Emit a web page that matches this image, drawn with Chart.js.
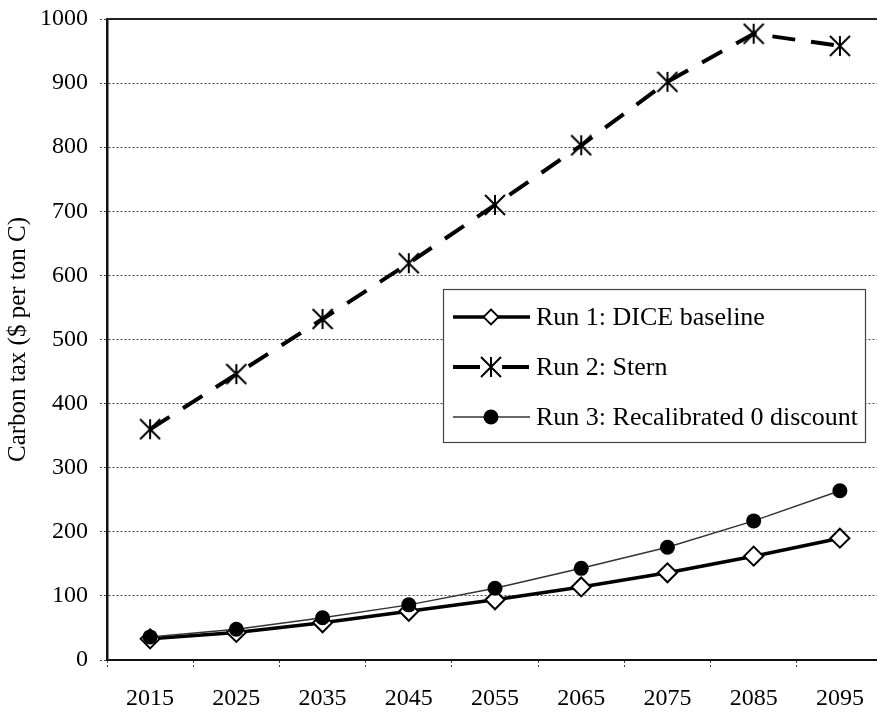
<!DOCTYPE html>
<html>
<head>
<meta charset="utf-8">
<script src="https://cdn.jsdelivr.net/npm/chart.js@4.4.1/dist/chart.umd.min.js"></script>
<style>
html,body{margin:0;padding:0;background:#fff;overflow:hidden;}
#wrap{width:898px;height:712px;}
</style>
</head>
<body>
<div id="wrap"><canvas id="c" width="898" height="712"></canvas></div>
<script>
const years = ['2015','2025','2035','2045','2055','2065','2075','2085','2095'];
const run1Dice = [33, 43, 58, 76, 94, 114, 136, 162, 190];
const run2Stern = [360, 446, 532, 619, 710, 803, 902, 977, 958];
const run3Recal = [36, 48, 66, 86, 112, 143, 176, 217, 264];
const seriesLabels = ['Run 1: DICE baseline', 'Run 2: Stern', 'Run 3: Recalibrated 0 discount'];
const yTitle = 'Carbon tax ($ per ton C)';

Chart.defaults.font.family = "'Liberation Serif', 'Times New Roman', serif";
Chart.defaults.color = '#000';

function makeAsterisk(size, lw) {
  const cv = document.createElement('canvas');
  cv.width = size; cv.height = size;
  const g = cv.getContext('2d');
  g.strokeStyle = '#000'; g.lineWidth = lw; g.lineCap = 'butt';
  const m = 1;
  g.beginPath();
  g.moveTo(size/2, m); g.lineTo(size/2, size - m);
  g.moveTo(m, m); g.lineTo(size - m, size - m);
  g.moveTo(size - m, m); g.lineTo(m, size - m);
  g.stroke();
  return cv;
}
const asterisk = makeAsterisk(22, 2);

const legendPlugin = {
  id: 'boxLegend',
  afterDraw(chart) {
    const ctx = chart.ctx;
    const area = chart.chartArea;
    ctx.save();
    ctx.strokeStyle = '#222';
    ctx.lineWidth = 2;
    ctx.setLineDash([]);
    ctx.beginPath();
    ctx.moveTo(area.left - 1, area.top);
    ctx.lineTo(area.right, area.top);
    ctx.stroke();

    const bx = 443, by = 289, bw = 422, bh = 153;
    ctx.fillStyle = '#fff';
    ctx.fillRect(bx, by, bw, bh);
    ctx.strokeStyle = '#444';
    ctx.lineWidth = 1.2;
    ctx.strokeRect(bx + 0.5, by + 0.5, bw, bh);

    const rows = [317, 367, 417];
    const x0 = 453, x1 = 530, mx = 491;
    chart.data.datasets.forEach((ds, i) => {
      const y = rows[i];
      ctx.strokeStyle = ds.borderColor;
      ctx.lineWidth = ds.borderWidth;
      ctx.setLineDash(ds.borderDash ? [27, 22] : []);
      ctx.beginPath();
      ctx.moveTo(x0, y); ctx.lineTo(x1, y);
      ctx.stroke();
      ctx.setLineDash([]);
      if (ds.pointStyle === 'rectRot') {
        const r = 7.5;
        ctx.fillStyle = '#fff';
        ctx.strokeStyle = '#000';
        ctx.lineWidth = 1.8;
        ctx.beginPath();
        ctx.moveTo(mx, y - r); ctx.lineTo(mx + r, y); ctx.lineTo(mx, y + r); ctx.lineTo(mx - r, y); ctx.closePath();
        ctx.fill(); ctx.stroke();
      } else if (ds.pointStyle === 'circle') {
        ctx.fillStyle = '#000';
        ctx.beginPath();
        ctx.arc(mx, y, 7.5, 0, Math.PI * 2);
        ctx.fill();
      } else {
        ctx.drawImage(asterisk, mx - 11, y - 11);
      }
      ctx.fillStyle = '#000';
      ctx.font = "26px 'Liberation Serif', serif";
      ctx.textBaseline = 'middle';
      ctx.textAlign = 'left';
      ctx.fillText(ds.label, 536, y + 1);
    });
    ctx.restore();
  }
};

new Chart(document.getElementById('c'), {
  type: 'line',
  data: {
    labels: years,
    datasets: [
      {
        label: seriesLabels[0], data: run1Dice, order: 3,
        borderColor: '#000', borderWidth: 3.5, tension: 0,
        pointStyle: 'rectRot', pointRadius: 9.5,
        pointBackgroundColor: '#fff', pointBorderColor: '#000', pointBorderWidth: 2
      },
      {
        label: seriesLabels[1], data: run2Stern, order: 2,
        borderColor: '#000', borderWidth: 4, borderDash: [23, 16], tension: 0,
        pointStyle: asterisk, pointRadius: 11
      },
      {
        label: seriesLabels[2], data: run3Recal, order: 1,
        borderColor: '#333', borderWidth: 1.5, tension: 0,
        pointStyle: 'circle', pointRadius: 7.5,
        pointBackgroundColor: '#000', pointBorderColor: '#000', pointBorderWidth: 0
      }
    ]
  },
  options: {
    responsive: false,
    animation: false,
    devicePixelRatio: 1,
    layout: { padding: { left: 0, top: 19, right: 3, bottom: 0 } },
    plugins: { legend: { display: false }, tooltip: { enabled: false } },
    scales: {
      x: {
        type: 'category',
        offset: true,
        afterFit(scale) { scale.height = 52; scale.paddingLeft = 0; scale.paddingRight = 0; },
        grid: { offset: true, drawOnChartArea: false, tickLength: 7, color: '#444', lineWidth: 1, tickBorderDash: [2, 2] },
        border: { color: '#111', width: 2 },
        ticks: { font: { size: 24 }, color: '#000', padding: 17, maxRotation: 0, autoSkip: false }
      },
      y: {
        min: 0, max: 1000,
        afterFit(scale) { scale.width = 107; scale.paddingTop = 0; scale.paddingBottom = 0; },
        ticks: { stepSize: 100, font: { size: 24 }, color: '#000', padding: 12, callback: (v) => String(v) },
        grid: { color: '#444', lineWidth: 1, tickLength: 7, tickBorderDash: [2, 2] },
        border: { color: '#111', width: 2.5, dash: [2, 2] },
        title: { display: true, text: yTitle, font: { size: 25 }, color: '#000', padding: { top: 3, bottom: 0 } }
      }
    }
  },
  plugins: [legendPlugin]
});
</script>
</body>
</html>
